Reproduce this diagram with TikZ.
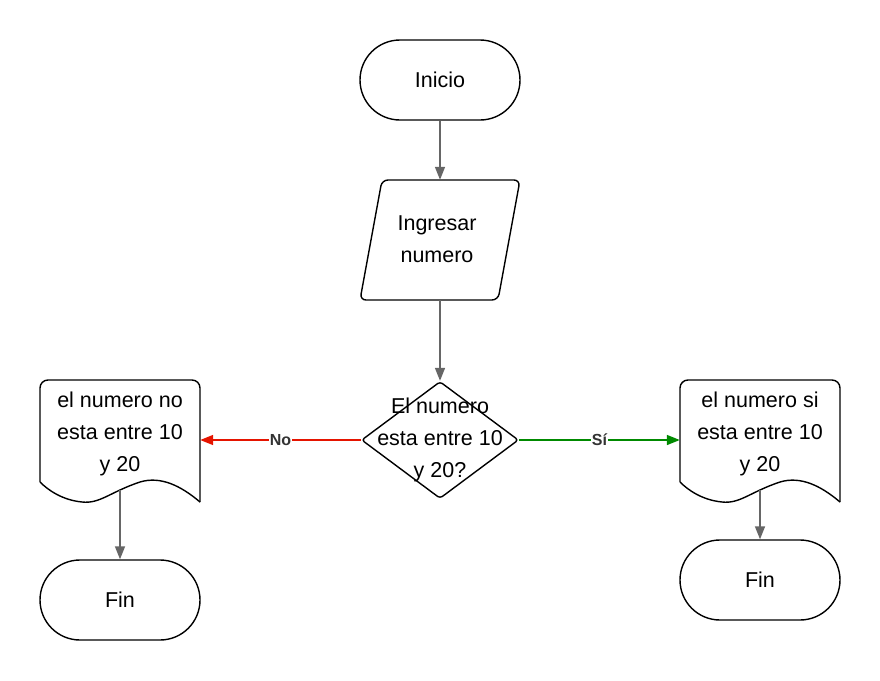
\documentclass[tikz,border=0pt]{standalone}
\usepackage{fontspec}
\setmainfont{Liberation Sans}
\usetikzlibrary{arrows.meta,shapes.geometric}
\definecolor{linegray}{HTML}{666666}
\definecolor{nored}{HTML}{E51400}
\definecolor{sigreen}{HTML}{008A00}
\definecolor{labelgray}{HTML}{333333}
\tikzset{
  shapeline/.style={draw=black, line width=1.4pt},
  term/.style={shapeline, rounded corners=40pt, minimum width=160pt, minimum height=80pt, inner sep=0pt},
  txt/.style={font=\fontsize{21.5pt}{32pt}\selectfont, align=center, inner sep=0pt},
  flow/.style={draw=linegray, line width=1.6pt, -{Triangle[length=13pt,width=10pt]}},
  lbl/.style={font=\fontsize{16pt}{18pt}\selectfont\bfseries, text=labelgray, fill=white, inner sep=1pt}
}
\begin{document}
\begin{tikzpicture}[x=1pt,y=-1pt]
\useasboundingbox (0,0) rectangle (880,680);
% Inicio
\node[term, txt] (ini) at (440,80) {Inicio};
% Ingresar numero (parallelogram)
\draw[shapeline, rounded corners=6pt] (382,180) -- (520,180) -- (498,300) -- (360,300) -- cycle;
\node[minimum width=120pt, minimum height=120pt, inner sep=0pt] (inp) at (440,240) {};
\node[txt] (inptxt) at (437,239) {Ingresar\\numero};
% decision
\node[diamond, shapeline, rounded corners=3pt, minimum width=157pt, minimum height=117pt, inner sep=0pt] (dec) at (440,440) {};
\node[txt] (dectxt) at (440,440) {El numero\\esta entre 10\\y 20?};
% left document
\draw[shapeline, rounded corners=8pt] (40,482) -- (40,380) -- (200,380) -- (200,502);
\draw[shapeline] (200,502) .. controls (180,485) and (160,476) .. (140,482) .. controls (110,492) and (100,504) .. (82,502) .. controls (62,500) and (48,490) .. (40,482);
\node[minimum width=160pt, minimum height=120pt, inner sep=0pt] (docL) at (120,440) {};
\node[txt] (docLtxt) at (120,434) {el numero no\\esta entre 10\\y 20};
\coordinate (docLb) at (120,490);
% right document
\draw[shapeline, rounded corners=8pt] (680,482) -- (680,380) -- (840,380) -- (840,502);
\draw[shapeline] (840,502) .. controls (820,485) and (800,476) .. (780,482) .. controls (750,492) and (740,504) .. (722,502) .. controls (702,500) and (688,490) .. (680,482);
\node[minimum width=160pt, minimum height=120pt, inner sep=0pt] (docR) at (760,440) {};
\node[txt] (docRtxt) at (760,434) {el numero si\\esta entre 10\\y 20};
\coordinate (docRb) at (760,490);
% Fin nodes
\node[term, txt] (finL) at (120,600) {Fin};
\node[term, txt] (finR) at (760,580) {Fin};
% connectors
\draw[flow] (ini.south) -- (inp.north);
\draw[flow] (inp.south) -- (dec.north);
\draw[flow, draw=nored, -{Triangle[length=13pt,width=10pt,fill=nored]}] (dec.west) -- node[lbl] {No} (docL.east);
\draw[flow, draw=sigreen, -{Triangle[length=13pt,width=10pt,fill=sigreen]}] (dec.east) -- node[lbl] {Sí} (docR.west);
\draw[flow] (docLb) -- (finL.north);
\draw[flow] (docRb) -- (finR.north);
\end{tikzpicture}
\end{document}
